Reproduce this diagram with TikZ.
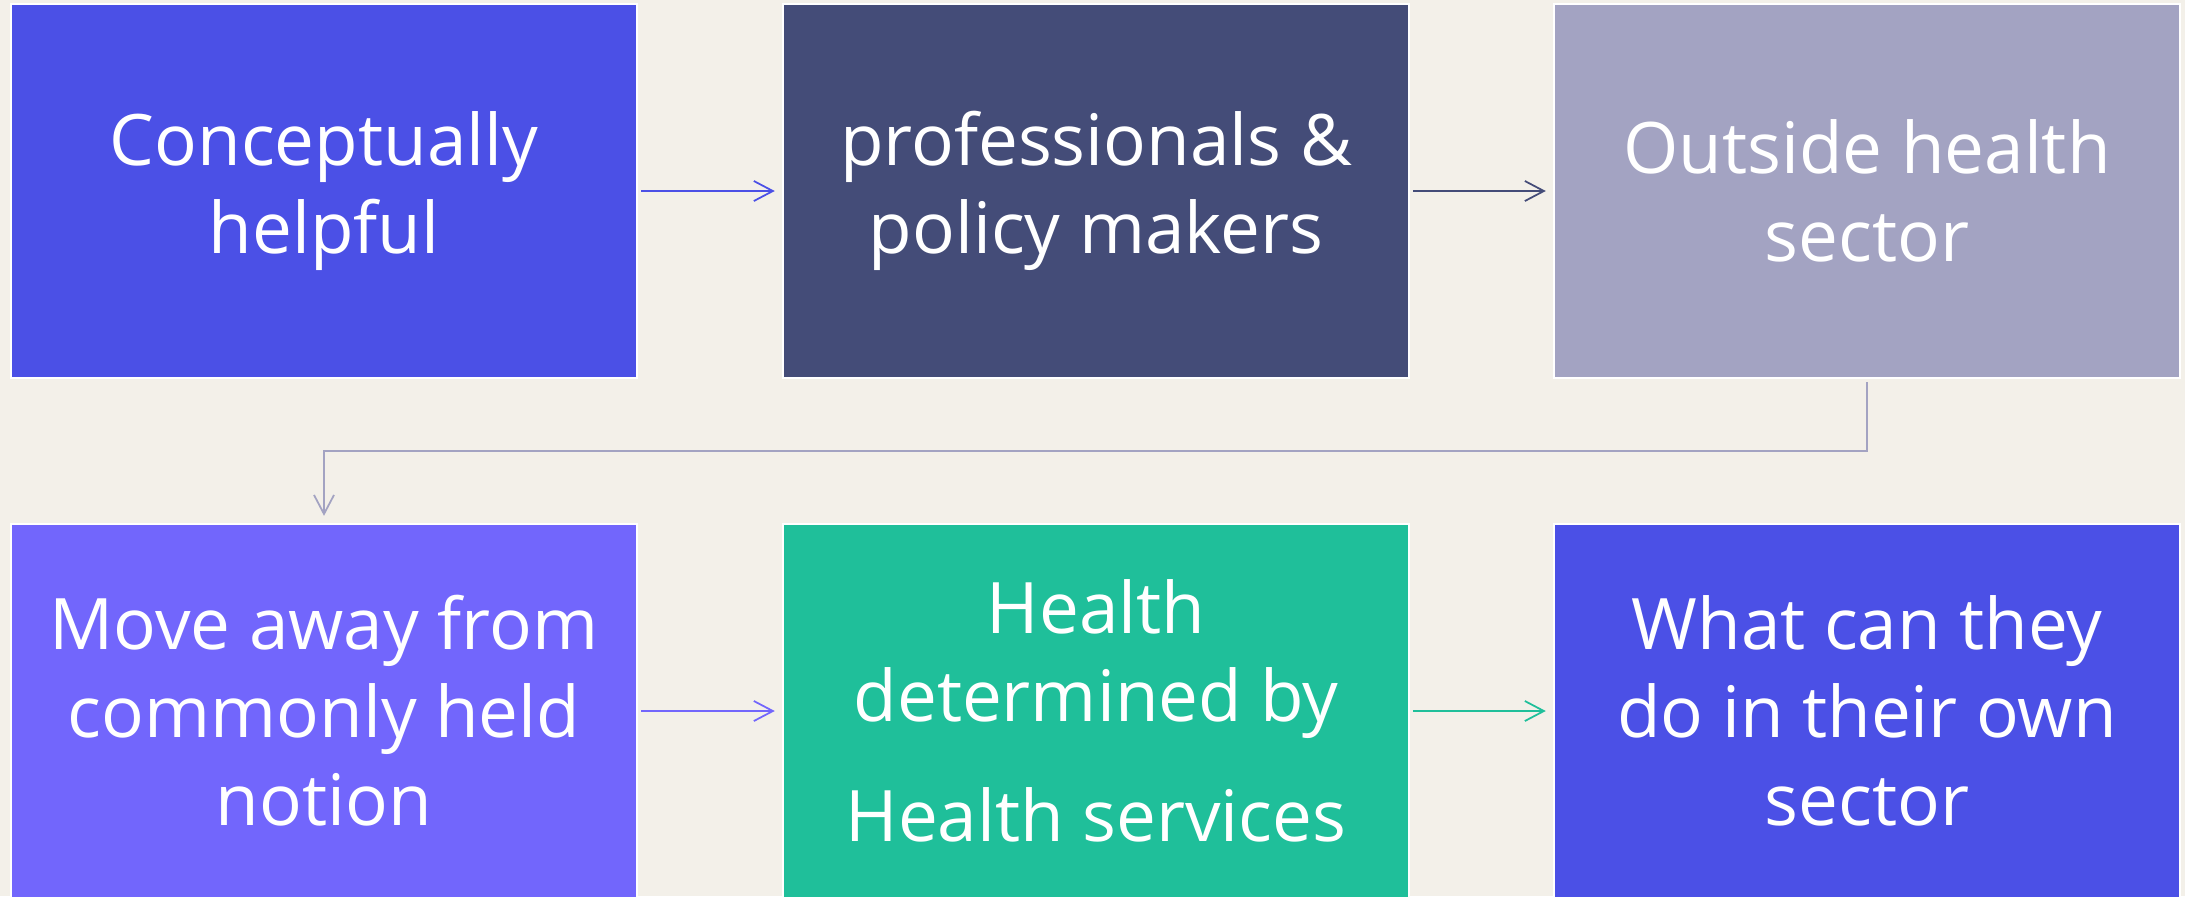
\documentclass[tikz,border=0pt]{standalone}
\usepackage{fontspec}
\setmainfont{Open Sans}
\usetikzlibrary{arrows.meta}
\definecolor{bgcream}{HTML}{F3F0E9}
\definecolor{boxblue}{HTML}{4B50E6}
\definecolor{boxslate}{HTML}{444C78}
\definecolor{boxgrey}{HTML}{A3A3C2}
\definecolor{boxviolet}{HTML}{7266FC}
\definecolor{boxgreen}{HTML}{1FBF9A}
\begin{document}
\begin{tikzpicture}
[x=0.01cm,y=-0.01cm,
 nodedecorate/.style={shape=rectangle,minimum width=6.26cm,minimum height=3.74cm,inner sep=0pt,draw=white,line width=0.6pt,text=white,align=center,font=\fontsize{20.2}{25}\selectfont},%
  linedecorate/.style={-{Straight Barb[length=0.19cm,width=0.2cm]},line width=0.5pt,shorten <=0.03cm,shorten >=0.07cm}]
\fill[bgcream] (0,0) rectangle (2185,896);
\clip (0,0) rectangle (2185,896);
%% boxes
\foreach \nodename/\x/\y/\fillcol/\nodetext in {concept/324/191/boxblue/{Conceptually\\helpful},
  profs/1096/191/boxslate/{professionals \&\\policy makers},
  outside/1867/191/boxgrey/{Outside health\\sector},
  moveaway/324/711/boxviolet/{Move away from\\commonly held\\notion},
  determined/1096/711/boxgreen/{Health\\determined by\\[0.32cm]Health services},
  ownsector/1867/711/boxblue/{What can they\\do in their own\\sector}} {
  \node (\nodename) at (\x,\y) [nodedecorate,fill=\fillcol] {\nodetext};
}
%% arrows
\path
\foreach \startnode/\endnode/\linecol in {concept/profs/boxblue, profs/outside/boxslate, moveaway/determined/boxviolet, determined/ownsector/boxgreen} {
  (\startnode) edge[linedecorate,draw=\linecol] node {} (\endnode)
};
\draw[linedecorate,draw=boxgrey] (outside.south) -- ++(0,72) -| (moveaway.north);
\end{tikzpicture}
\end{document}
